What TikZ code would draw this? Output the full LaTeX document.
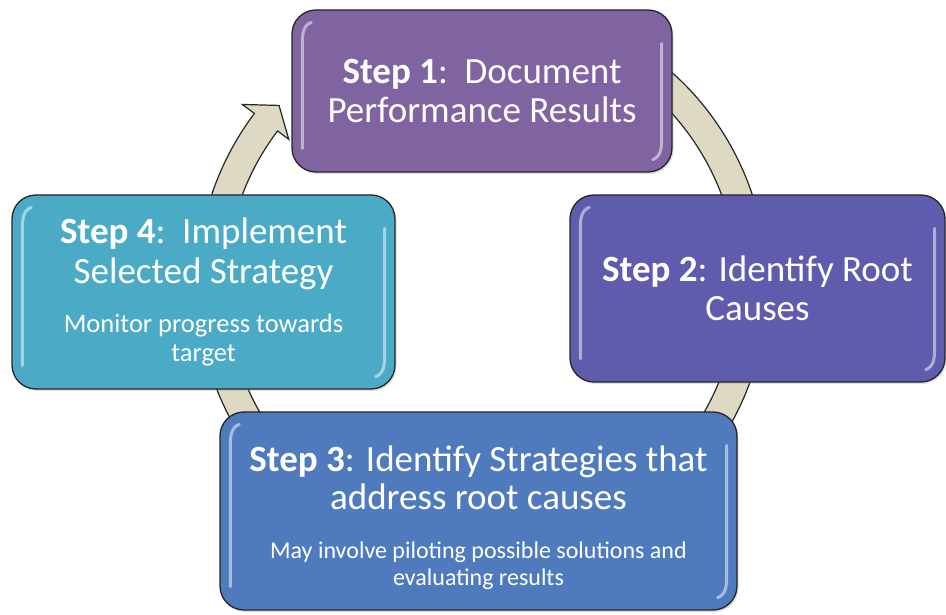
\documentclass[tikz,border=0pt]{standalone}
\usepackage{fontspec}
\setmainfont{Carlito}
\usetikzlibrary{calc,shadows}

\definecolor{ringfill}{HTML}{DDD9C3}
\definecolor{stepA}{HTML}{8063A1}
\definecolor{stepB}{HTML}{5F5BAD}
\definecolor{stepC}{HTML}{4F7BBE}
\definecolor{stepD}{HTML}{4BABC6}

\tikzset{
  ring/.style={fill=ringfill, draw=black!85, line width=1.2pt, line join=miter},
  stepbox/.style={rectangle, rounded corners=24pt, draw=black!85, line width=1.3pt,
    inner sep=0pt,
    drop shadow={shadow xshift=1.5pt, shadow yshift=-2pt, opacity=0.25}},
  steptext/.style={text=white, align=center, inner sep=0pt},
  gloss/.style={white, opacity=0.5, line width=3pt, line cap=round},
}

% glossy highlights along the inner left and right edges of a box
\newcommand{\boxgloss}[1]{%
  \draw[gloss] ([xshift=11pt,yshift=24pt]#1.south west) --
    ([xshift=11pt,yshift=-34pt]#1.north west)
    to[out=90,in=200] ([xshift=20pt,yshift=-13pt]#1.north west);
  \draw[gloss] ([xshift=-11pt,yshift=-34pt]#1.north east) --
    ([xshift=-11pt,yshift=34pt]#1.south east)
    to[out=-90,in=20] ([xshift=-20pt,yshift=13pt]#1.south east);
}

\begin{document}
\begin{tikzpicture}[x=1pt,y=1pt]
\useasboundingbox (0,0) rectangle (946,614);

% circular arrow running clockwise behind the four steps
\coordinate (c) at (482,329);
\draw[ring] ([shift={(60:285pt)}]c)
  arc[start angle=60, end angle=-217, radius=285pt]
  -- ([shift={(-217:300pt)}]c)
  -- ([shift={(-221.5:271pt)}]c)
  -- ([shift={(-217:242pt)}]c)
  -- ([shift={(-217:256pt)}]c)
  arc[start angle=-217, end angle=60, radius=256pt]
  -- cycle;

% the four step boxes
\node[stepbox, fill=stepA, minimum width=380pt, minimum height=162pt] (s1) at (482,523) {};
\node[stepbox, fill=stepB, minimum width=375pt, minimum height=187pt] (s2) at (757.5,325.5) {};
\node[stepbox, fill=stepC, minimum width=517pt, minimum height=198pt] (s3) at (478.5,103) {};
\node[stepbox, fill=stepD, minimum width=383pt, minimum height=194pt] (s4) at (203.5,322) {};

\boxgloss{s1}
\boxgloss{s2}
\boxgloss{s3}
\boxgloss{s4}

% their texts
\node[steptext] (t1) at (s1.center)
  {\begin{minipage}{370pt}\centering\fontsize{37}{39}\selectfont
   \textbf{Step 1}:\ \ Document\\Performance Results\end{minipage}};

\node[steptext] (t2) at (s2.center)
  {\begin{minipage}{365pt}\centering\fontsize{37}{39}\selectfont
   \textbf{Step 2}: Identify Root\\Causes\end{minipage}};

\node[steptext] (t3) at ([yshift=-6.5pt]s3.center)
  {\begin{minipage}{505pt}\centering\fontsize{37}{38}\selectfont
   \textbf{Step 3}: Identify Strategies that\\address root causes\par
   \vspace{22pt}\fontsize{24}{27}\selectfont
   May involve piloting possible solutions and\\evaluating results\end{minipage}};

\node[steptext] (t4) at (s4.center)
  {\begin{minipage}{370pt}\centering\fontsize{37}{40}\selectfont
   \textbf{Step 4}:\ \ Implement\\Selected Strategy\par
   \vspace{20pt}\fontsize{26.5}{29}\selectfont
   Monitor progress towards\\target\end{minipage}};
\end{tikzpicture}
\end{document}
